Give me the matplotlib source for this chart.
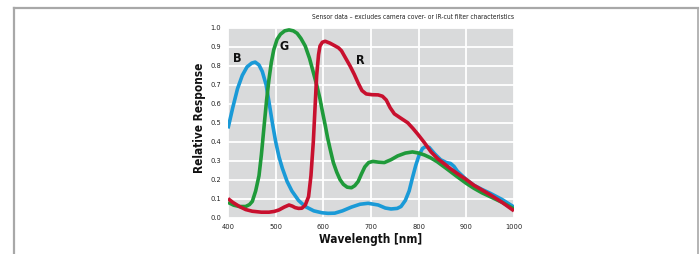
import matplotlib
matplotlib.use("Agg")
import matplotlib.pyplot as plt
from matplotlib.lines import Line2D

plt.rcParams['font.family'] = ['DejaVu Sans']
plt.rcParams['font.stretch'] = 'condensed'

blue_wl = [400, 410, 420, 430, 440, 450, 457, 465, 472, 480, 486, 493, 500, 507, 514, 524, 534, 548, 562, 580, 597, 610, 624, 640, 659, 677, 694, 715, 730, 742, 755, 763, 772, 780, 787, 794, 801, 808, 815, 822, 834, 846, 858, 867, 874, 881, 900, 916, 933, 950, 975, 1000]
blue_val = [0.47, 0.58, 0.68, 0.75, 0.795, 0.815, 0.82, 0.805, 0.77, 0.70, 0.61, 0.50, 0.40, 0.32, 0.26, 0.19, 0.14, 0.09, 0.058, 0.035, 0.025, 0.022, 0.023, 0.035, 0.055, 0.07, 0.075, 0.066, 0.05, 0.045, 0.048, 0.058, 0.09, 0.14, 0.21, 0.276, 0.33, 0.364, 0.375, 0.37, 0.335, 0.305, 0.29, 0.285, 0.27, 0.245, 0.20, 0.17, 0.148, 0.128, 0.095, 0.055]

green_wl = [400, 412, 424, 437, 445, 451, 458, 465, 470, 476, 481, 486, 491, 496, 503, 510, 519, 528, 537, 545, 553, 562, 571, 579, 586, 593, 598, 604, 609, 614, 621, 628, 635, 642, 650, 659, 666, 673, 680, 687, 695, 704, 716, 728, 742, 756, 772, 787, 800, 812, 825, 839, 860, 881, 900, 916, 933, 950, 975, 1000]
green_val = [0.08, 0.065, 0.058, 0.058, 0.068, 0.085, 0.14, 0.22, 0.33, 0.49, 0.62, 0.73, 0.82, 0.885, 0.94, 0.967, 0.985, 0.99, 0.985, 0.972, 0.945, 0.905, 0.84, 0.766, 0.70, 0.626, 0.56, 0.486, 0.42, 0.364, 0.29, 0.24, 0.20, 0.175, 0.16, 0.157, 0.168, 0.19, 0.23, 0.267, 0.29, 0.296, 0.292, 0.29, 0.305, 0.325, 0.34, 0.346, 0.34, 0.33, 0.315, 0.294, 0.255, 0.215, 0.18, 0.154, 0.13, 0.11, 0.08, 0.045]

red_wl = [400, 410, 424, 437, 451, 470, 486, 497, 507, 518, 528, 535, 541, 548, 555, 562, 569, 574, 579, 583, 586, 590, 593, 598, 604, 614, 625, 632, 638, 647, 656, 665, 673, 681, 690, 702, 715, 724, 732, 740, 749, 762, 777, 788, 798, 812, 826, 840, 853, 867, 881, 900, 916, 933, 950, 975, 1000]
red_val = [0.10, 0.08, 0.058, 0.042, 0.033, 0.028, 0.028, 0.032, 0.04, 0.055, 0.066, 0.06, 0.052, 0.048, 0.049, 0.065, 0.11, 0.22, 0.40, 0.60, 0.75, 0.86, 0.905, 0.925, 0.93, 0.92, 0.905, 0.895, 0.88, 0.84, 0.80, 0.755, 0.71, 0.67, 0.652, 0.648, 0.647, 0.64, 0.62, 0.58, 0.547, 0.525, 0.50, 0.47, 0.44, 0.395, 0.346, 0.31, 0.285, 0.257, 0.232, 0.20, 0.17, 0.145, 0.12, 0.08, 0.035]

x_ticks = [400, 500, 600, 700, 800, 900, 1000]
y_ticks = [0.0, 0.1, 0.2, 0.3, 0.4, 0.5, 0.6, 0.7, 0.8, 0.9, 1.0]

W, H = 700, 254
fig = plt.figure(figsize=(W / 100, H / 100), dpi=100)
fig.patch.set_facecolor("white")

# frame
fig.add_artist(Line2D([13.5 / W, 697.5 / W], [1 - 7.5 / H, 1 - 7.5 / H], color="#a8a8a8", lw=1.6, transform=fig.transFigure))
fig.add_artist(Line2D([13.5 / W, 13.5 / W], [0, 1 - 7.5 / H], color="#a8a8a8", lw=1.6, transform=fig.transFigure))
fig.add_artist(Line2D([697.5 / W, 697.5 / W], [0, 1 - 7.5 / H], color="#a8a8a8", lw=1.2, transform=fig.transFigure))

ax = fig.add_axes([228 / W, 1 - 217.5 / H, (514 - 228) / W, (217.5 - 28) / H])
ax.set_facecolor("#d9dadb")
for s in ax.spines.values():
    s.set_visible(False)
ax.set_xlim(400, 1000)
ax.set_ylim(0, 1.0)
ax.set_xticks(x_ticks)
ax.set_yticks(y_ticks)
ax.set_xticklabels([str(v) for v in x_ticks])
ax.set_yticklabels([f"{v:.1f}" for v in y_ticks])
ax.tick_params(length=0, labelsize=5.3, pad=5, colors="#222222")
ax.grid(True, color="white", lw=1.3)
ax.set_axisbelow(True)

lw = 2.6
ax.plot(blue_wl, blue_val, color="#1a9ad7", lw=lw, solid_joinstyle="round", solid_capstyle="butt", zorder=3)
ax.plot(green_wl, green_val, color="#1f9a3a", lw=lw, solid_joinstyle="round", solid_capstyle="butt", zorder=4)
ax.plot(red_wl, red_val, color="#c8102e", lw=lw, solid_joinstyle="round", solid_capstyle="butt", zorder=5)

ax.text(419, 0.84, "B", fontsize=9, fontweight="bold", ha="center", va="center", color="#111111")
ax.text(518, 0.905, "G", fontsize=9, fontweight="bold", ha="center", va="center", color="#111111")
ax.text(678, 0.83, "R", fontsize=9, fontweight="bold", ha="center", va="center", color="#111111")

fig.text(371 / W, 1 - 240 / H, "Wavelength [nm]", fontsize=8.5, fontweight="semibold",
         ha="center", va="center", color="#111111")
fig.text(199 / W, 1 - 118 / H, "Relative Response", fontsize=8.5, fontweight="semibold",
         ha="center", va="center", rotation=90, color="#111111")

fig.text(514 / W, 1 - 17 / H, "Sensor data \u2013 excludes camera cover- or IR-cut filter characteristics",
         fontsize=4.8, ha="right", va="center", color="#222222")

fig.savefig("out.png", dpi=100)
